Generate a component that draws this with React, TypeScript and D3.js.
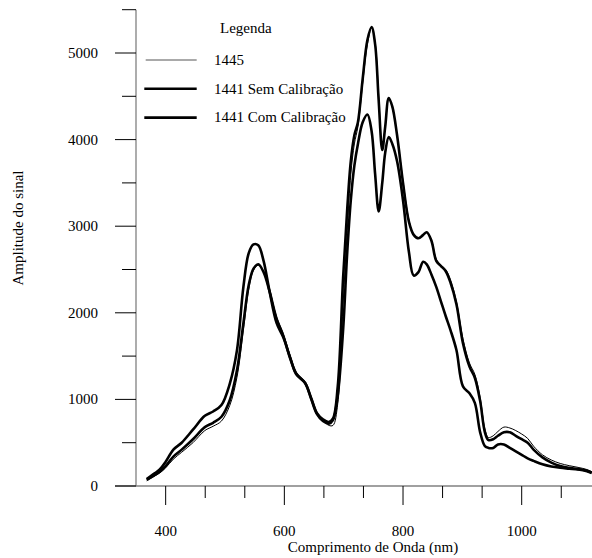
import React from 'react';
import * as d3 from 'd3';

// comprimento de onda (nm)
const wavelength = [
  368, 380, 390, 400, 413, 427, 446, 466, 480, 494, 508, 520, 531, 540, 548, 556, 565, 575, 587, 598,
  610, 620, 635, 645, 655, 665, 675, 682, 690, 699, 706, 712, 718, 724, 732, 740, 747, 753, 759, 765,
  770, 776, 782, 790, 800, 810, 818, 826, 834, 840, 848, 856, 864, 872, 880, 890, 901, 912, 921, 930,
  938, 944, 952, 960, 970, 980, 990, 1000, 1010, 1020, 1035, 1050, 1065, 1080, 1095, 1110, 1118,
];

const ref1445 = [
  60, 110, 150, 210, 310, 390, 500, 640, 690, 750, 930, 1250, 1800, 2270, 2490, 2550, 2480, 2270, 1950, 1760,
  1500, 1310, 1200, 1030, 840, 760, 700, 700, 950, 2100, 2950, 3600, 3950, 4150, 4650, 5100, 5290, 5120, 4500, 3900,
  4150, 4470, 4370, 4050, 3520, 3070, 2900, 2860, 2900, 2930, 2840, 2620, 2550, 2500, 2380, 2130, 1700, 1420, 1290, 1020,
  660, 560, 580, 630, 680, 670, 640, 600, 550, 460, 360, 300, 260, 235, 215, 190, 165,
];

const semCalib = [
  80, 140, 190, 280, 420, 500, 650, 810, 860, 935, 1180, 1560, 2300, 2690, 2790, 2780, 2600, 2250, 1880, 1720,
  1480, 1290, 1190, 1010, 830, 750, 720, 760, 1050, 1800, 2700, 3300, 3700, 3950, 4200, 4290, 4100, 3600, 3170, 3500,
  3850, 4030, 3950, 3750, 3300, 2700, 2430, 2470, 2590, 2560, 2440, 2300, 2130, 1960, 1800, 1570, 1150, 1070, 960, 620,
  460, 440, 440, 480, 480, 440, 400, 360, 320, 290, 250, 225, 210, 200, 190, 170, 150,
];

const comCalib = [
  70, 120, 165, 230, 340, 420, 540, 680, 730, 800, 990, 1330, 1880, 2320, 2510, 2560, 2470, 2250, 1930, 1740,
  1470, 1300, 1190, 1020, 840, 770, 740, 780, 1150, 2400, 3200, 3750, 4050, 4200, 4700, 5150, 5300, 5100, 4450, 3880,
  4150, 4480, 4380, 4050, 3500, 3050, 2900, 2860, 2900, 2930, 2830, 2600, 2540, 2480, 2350, 2100, 1650, 1380, 1250, 980,
  620, 530, 540, 580, 620, 620, 580, 540, 500, 420, 330, 270, 230, 210, 195, 175, 155,
];

const series = [
  { name: '1445', values: ref1445, width: 1 },
  { name: '1441 Sem Calibração', values: semCalib, width: 2.6 },
  { name: '1441 Com Calibração', values: comCalib, width: 2.6 },
];

const xMajor = [400, 600, 800, 1000];
const xTicks = d3.range(400, 1100, 200 / 3);
const yMajor = [0, 1000, 2000, 3000, 4000, 5000];
const yTicks = d3.range(0, 5501, 500);

const font = '"Liberation Serif", "Times New Roman", serif';

export default function App() {
  const x = d3.scaleLinear().domain([350, 1120]).range([136, 592.9]);
  const y = d3.scaleLinear().domain([0, 5500]).range([486, 9.7]);

  const line = d3
    .line<number>()
    .x((_, i) => x(wavelength[i]))
    .y((v) => y(v))
    .curve(d3.curveCatmullRom.alpha(0.5));

  const isMajorX = (t: number) => xMajor.some((m) => Math.abs(m - t) < 1);

  return (
    <svg
      width={592}
      height={558}
      style={{ position: 'absolute', left: 0, top: 0, background: '#fff' }}
      fontFamily={font}
      fontSize={15}
    >
      {/* eixos */}
      <line x1={115} x2={592} y1={y(0)} y2={y(0)} stroke="#808080" strokeWidth={1.3} />
      <line x1={136} x2={136} y1={y(0)} y2={y(5500)} stroke="#808080" strokeWidth={1.3} />

      {yTicks.map((t) => (
        <line
          key={'yt' + t}
          x1={t % 1000 === 0 ? 115 : 122}
          x2={136}
          y1={y(t)}
          y2={y(t)}
          stroke="#000"
          strokeWidth={1}
        />
      ))}
      {yMajor.map((t) => (
        <text key={'yl' + t} x={98} y={y(t) + 5} textAnchor="end">
          {t}
        </text>
      ))}

      {xTicks.map((t) => (
        <line
          key={'xt' + t}
          x1={x(t)}
          x2={x(t)}
          y1={y(0)}
          y2={y(0) + (isMajorX(t) ? 19 : 12)}
          stroke="#000"
          strokeWidth={1}
        />
      ))}
      {xMajor.map((t) => (
        <text key={'xl' + t} x={x(t)} y={536} textAnchor="middle">
          {t}
        </text>
      ))}

      <text x={373} y={552} textAnchor="middle">
        Comprimento de Onda (nm)
      </text>
      <text transform="translate(23,228) rotate(-90)" textAnchor="middle">
        Amplitude do sinal
      </text>

      {/* curvas */}
      {series.map((s) => (
        <path
          key={s.name}
          d={line(s.values) || ''}
          fill="none"
          stroke="#000"
          strokeWidth={s.width}
          strokeLinejoin="round"
        />
      ))}

      {/* legenda */}
      <text x={220} y={33}>
        Legenda
      </text>
      {series.map((s, i) => (
        <g key={'lg' + s.name}>
          <line
            x1={i === 0 ? 145.7 : 144.3}
            x2={196.7}
            y1={60 + i * 28.8}
            y2={60 + i * 28.8}
            stroke={i === 0 ? '#555' : '#000'}
            strokeWidth={s.width}
          />
          <text x={214} y={65 + i * 28.5}>
            {s.name}
          </text>
        </g>
      ))}
    </svg>
  );
}
